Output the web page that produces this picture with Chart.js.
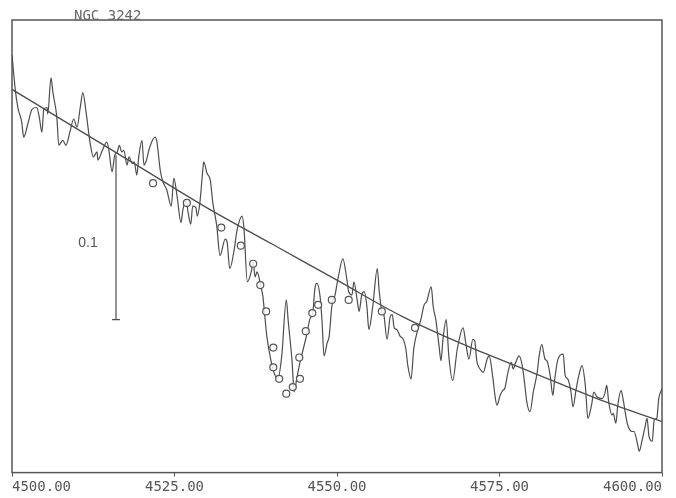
<!DOCTYPE html>
<html>
<head>
<meta charset="utf-8">
<script src="https://cdn.jsdelivr.net/npm/chart.js@4/dist/chart.umd.min.js"></script>
<style>
  html, body { margin: 0; padding: 0; background: #ffffff; }
  canvas { display: block; }
</style>
</head>
<body>
<canvas id="chart" width="676" height="498"></canvas>
<script>
// Observed spectrum (wavelength in A, relative flux)
var specWave = [
  4500.0, 4500.5, 4500.9, 4501.5, 4501.8, 4502.5, 4503.1, 4503.8, 4504.2, 4504.6,
  4504.9, 4505.4, 4505.5, 4506.0, 4506.3, 4506.9, 4507.2, 4507.8, 4508.3, 4508.9,
  4509.5, 4510.0, 4510.5, 4510.9, 4511.4, 4512.0, 4512.5, 4513.1, 4513.2, 4513.8,
  4514.6, 4514.9, 4515.4, 4515.8, 4516.2, 4516.5, 4516.9, 4517.2, 4517.7, 4518.0,
  4518.5, 4518.8, 4519.2, 4519.5, 4520.0, 4520.3, 4520.6, 4521.2, 4522.0, 4522.3,
  4522.8, 4523.2, 4523.8, 4524.5, 4524.9, 4525.4, 4526.0, 4526.3, 4526.8, 4527.1,
  4527.5, 4527.8, 4528.3, 4528.5, 4528.9, 4529.4, 4529.5, 4530.0, 4530.5, 4530.9,
  4531.5, 4532.0, 4532.8, 4533.1, 4533.5, 4534.2, 4534.6, 4535.4, 4535.7, 4536.2,
  4536.8, 4537.1, 4537.4, 4537.7, 4538.2, 4538.6, 4538.9, 4539.2, 4539.7, 4540.2,
  4540.9, 4541.5, 4542.2, 4542.5, 4543.1, 4543.4, 4543.8, 4544.3, 4544.8, 4545.4,
  4545.8, 4546.3, 4546.6, 4546.9, 4547.4, 4547.7, 4548.0, 4548.5, 4548.8, 4549.2,
  4549.7, 4550.2, 4550.9, 4551.5, 4551.8, 4552.3, 4552.6, 4553.1, 4553.4, 4553.8,
  4554.2, 4554.6, 4554.9, 4555.5, 4556.2, 4556.5, 4556.9, 4557.2, 4557.7, 4558.2,
  4558.5, 4558.8, 4559.2, 4559.7, 4560.2, 4560.6, 4560.9, 4561.4, 4561.8, 4562.3,
  4562.9, 4563.4, 4563.8, 4564.5, 4564.8, 4565.2, 4565.7, 4566.0, 4566.3, 4566.8,
  4567.2, 4567.8, 4568.5, 4569.4, 4569.8, 4570.3, 4570.9, 4571.2, 4571.5, 4572.0,
  4572.5, 4573.1, 4573.4, 4574.0, 4574.3, 4574.6, 4575.1, 4575.5, 4575.8, 4576.3,
  4576.8, 4577.1, 4577.5, 4578.0, 4578.5, 4578.9, 4579.2, 4579.7, 4580.2, 4580.8,
  4581.1, 4581.5, 4582.0, 4582.3, 4582.8, 4583.2, 4583.5, 4584.0, 4584.8, 4585.1,
  4585.5, 4586.0, 4586.3, 4586.8, 4587.2, 4587.7, 4588.2, 4588.6, 4589.2, 4589.5,
  4590.0, 4590.8, 4591.2, 4591.5, 4591.8, 4592.3, 4592.5, 4592.9, 4593.2, 4593.7,
  4594.0, 4594.5, 4594.8, 4595.4, 4595.7, 4596.2, 4596.5, 4596.9, 4597.4, 4597.7,
  4598.0, 4598.5, 4598.8, 4599.2, 4599.5, 4600.0
];
var specFlux = [
  0.254, 0.233, 0.222, 0.213, 0.204, 0.213, 0.221, 0.222, 0.216, 0.207,
  0.221, 0.222, 0.218, 0.240, 0.231, 0.216, 0.199, 0.202, 0.199, 0.207,
  0.215, 0.210, 0.222, 0.231, 0.219, 0.201, 0.192, 0.195, 0.190, 0.195,
  0.201, 0.196, 0.183, 0.193, 0.195, 0.199, 0.195, 0.196, 0.187, 0.192,
  0.188, 0.189, 0.181, 0.192, 0.202, 0.187, 0.189, 0.198, 0.204, 0.201,
  0.184, 0.177, 0.172, 0.162, 0.179, 0.168, 0.152, 0.160, 0.165, 0.158,
  0.151, 0.162, 0.161, 0.156, 0.164, 0.186, 0.189, 0.182, 0.178, 0.164,
  0.150, 0.132, 0.142, 0.140, 0.124, 0.136, 0.147, 0.156, 0.148, 0.116,
  0.122, 0.128, 0.119, 0.122, 0.115, 0.107, 0.095, 0.083, 0.071, 0.062,
  0.057, 0.071, 0.105, 0.092, 0.067, 0.049, 0.057, 0.067, 0.075, 0.085,
  0.093, 0.098, 0.112, 0.115, 0.107, 0.092, 0.071, 0.079, 0.083, 0.101,
  0.108, 0.119, 0.130, 0.118, 0.110, 0.108, 0.116, 0.105, 0.098, 0.108,
  0.110, 0.101, 0.087, 0.101, 0.124, 0.110, 0.098, 0.096, 0.081, 0.095,
  0.096, 0.088, 0.087, 0.083, 0.081, 0.075, 0.065, 0.057, 0.075, 0.085,
  0.093, 0.102, 0.104, 0.113, 0.101, 0.093, 0.077, 0.068, 0.081, 0.093,
  0.071, 0.056, 0.075, 0.088, 0.079, 0.069, 0.081, 0.080, 0.068, 0.063,
  0.061, 0.069, 0.071, 0.057, 0.047, 0.041, 0.047, 0.050, 0.051, 0.061,
  0.067, 0.063, 0.067, 0.071, 0.065, 0.053, 0.043, 0.037, 0.049, 0.061,
  0.071, 0.078, 0.069, 0.068, 0.059, 0.047, 0.057, 0.069, 0.072, 0.059,
  0.057, 0.049, 0.040, 0.051, 0.059, 0.065, 0.053, 0.033, 0.042, 0.049,
  0.046, 0.045, 0.048, 0.053, 0.043, 0.035, 0.036, 0.030, 0.041, 0.050,
  0.045, 0.033, 0.028, 0.025, 0.025, 0.018, 0.013, 0.019, 0.028, 0.033,
  0.022, 0.019, 0.032, 0.033, 0.045, 0.051
];

// Fitted continuum
var contWave = [4500, 4510, 4520, 4530, 4540, 4550, 4560, 4570, 4580, 4590, 4600];
var contFlux = [0.233, 0.209, 0.185, 0.161, 0.139, 0.117, 0.095, 0.077, 0.061, 0.045, 0.031];

// Model profile (open circles)
var modelWave = [4521.7, 4526.9, 4532.2, 4535.2, 4537.1, 4538.2, 4539.1, 4540.2, 4540.2, 4541.1,
                 4542.2, 4543.2, 4544.3, 4544.2, 4545.2, 4546.2, 4547.1, 4549.2, 4551.8, 4556.9, 4562.0];
var modelFlux = [0.176, 0.164, 0.149, 0.138, 0.127, 0.114, 0.098, 0.076, 0.064, 0.057,
                 0.048, 0.052, 0.057, 0.070, 0.086, 0.097, 0.102, 0.105, 0.105, 0.098, 0.088];

// Scale bar
var barWave = 4516.0;
var barTop = 0.193;
var barLength = 0.1;
var barLabel = '0.1';

var xTicks = [4500, 4525, 4550, 4575, 4600];
var title = 'NGC 3242';

function toPoints(xs, ys) {
  return xs.map(function(x, i) { return { x: x, y: ys[i] }; });
}

var ink = '#4d4d4d';

// frame, title and scale bar label
var decorPlugin = {
  id: 'decor',
  beforeDatasetsDraw: function(chart) {
    var a = chart.chartArea;
    var ctx = chart.ctx;
    ctx.save();
    ctx.strokeStyle = '#555';
    ctx.lineWidth = 1.5;
    ctx.strokeRect(a.left, a.top, a.right - a.left, a.bottom - a.top);
    ctx.restore();
  },
  afterDatasetsDraw: function(chart) {
    var a = chart.chartArea;
    var ctx = chart.ctx;
    var xs = chart.scales.x;
    var ys = chart.scales.y;
    ctx.save();
    ctx.fillStyle = '#666';
    ctx.font = '14px "DejaVu Sans Mono"';
    ctx.textAlign = 'left';
    ctx.textBaseline = 'alphabetic';
    ctx.fillText(title, a.left + 62, a.top);

    ctx.fillStyle = '#555';
    ctx.font = '14px "Liberation Sans"';
    ctx.textAlign = 'center';
    ctx.textBaseline = 'middle';
    ctx.fillText(barLabel, xs.getPixelForValue(barWave) - 28, ys.getPixelForValue(barTop - barLength / 2) + 6);
    ctx.restore();
  }
};

var chartData = {
  datasets: [
    {
      label: 'spectrum',
      data: toPoints(specWave, specFlux),
      showLine: true,
      borderColor: ink,
      borderWidth: 1.2,
      pointRadius: 0,
      cubicInterpolationMode: 'monotone',
      order: 3
    },
    {
      label: 'continuum',
      data: toPoints(contWave, contFlux),
      showLine: true,
      borderColor: ink,
      borderWidth: 1.3,
      pointRadius: 0,
      cubicInterpolationMode: 'monotone',
      order: 2
    },
    {
      label: 'scale',
      data: [
        { x: barWave, y: barTop },
        { x: barWave, y: barTop - barLength },
        { x: barWave - 0.6, y: barTop - barLength },
        { x: barWave + 0.6, y: barTop - barLength }
      ],
      showLine: true,
      borderColor: ink,
      borderWidth: 1.2,
      pointRadius: 0,
      tension: 0,
      order: 2
    },
    {
      label: 'model',
      data: toPoints(modelWave, modelFlux),
      showLine: false,
      pointStyle: 'circle',
      pointRadius: 3.5,
      borderWidth: 1.2,
      borderColor: '#555',
      backgroundColor: 'rgba(255,255,255,0.85)',
      order: 1
    }
  ]
};

var chartOptions = {
  responsive: false,
  animation: false,
  devicePixelRatio: 1,
  layout: { padding: { left: 12, right: 14, top: 20, bottom: 0 } },
  scales: {
    x: {
      type: 'linear',
      min: 4500,
      max: 4600,
      afterBuildTicks: function(scale) {
        scale.ticks = xTicks.map(function(v) { return { value: v }; });
      },
      ticks: {
        align: 'inner',
        autoSkip: false,
        maxRotation: 0,
        padding: 3,
        color: '#555',
        font: { family: '"DejaVu Sans Mono"', size: 14, lineHeight: 1.1 },
        callback: function(v) { return Number(v).toFixed(2); }
      },
      grid: {
        display: true,
        drawOnChartArea: false,
        drawTicks: true,
        tickLength: 4,
        color: '#555'
      },
      border: { display: false }
    },
    y: {
      display: false,
      min: 0,
      max: 0.2752
    }
  },
  plugins: {
    legend: { display: false },
    tooltip: { enabled: false },
    title: { display: false }
  }
};

var chart = new Chart(document.getElementById('chart'), {
  type: 'scatter',
  data: chartData,
  options: chartOptions,
  plugins: [decorPlugin]
});
</script>
</body>
</html>
